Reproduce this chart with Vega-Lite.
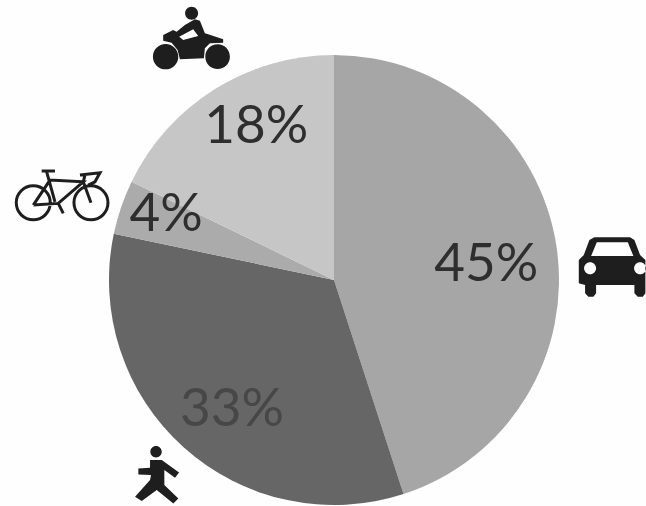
{
"$schema":"https://vega.github.io/schema/vega-lite/v6.json",
"width":646,"height":506,"padding":0,"autosize":{"type":"none"},
"background":"#fefefe",
"view":{"stroke":null},
"resolve":{"scale":{"color":"independent"}},
"datasets":{
"shares":[
{"mode":"Car","rank":1,"share":45,"label":"45%","labelTurn":23.4,"labelRadius":0.68},
{"mode":"Walking","rank":2,"share":33.3,"label":"33%","labelTurn":60.6,"labelRadius":0.733},
{"mode":"Bicycle","rank":3,"share":3.9,"label":"4%","labelTurn":80.9,"labelRadius":0.8},
{"mode":"Motorcycle","rank":4,"share":17.8,"label":"18%","labelTurn":92.5,"labelRadius":0.762}],
"icons":[
{"mode":"Car","across":1.236,"down":-0.062},
{"mode":"Walking","across":-0.782,"down":0.867},
{"mode":"Bicycle","across":-1.209,"down":-0.364},
{"mode":"Motorcycle","across":-0.636,"down":-1.089}]
},
"layer":[
{"data":{"name":"shares"},
"mark":{"type":"arc","outerRadius":225,"innerRadius":0,"stroke":null},
"encoding":{
"x":{"datum":0,"type":"quantitative","scale":{"domain":[-1.4844,1.3867],"range":[0,646],"nice":false,"zero":false},"axis":null},
"y":{"datum":0,"type":"quantitative","scale":{"domain":[-1.2444,1.0044],"range":[0,506],"nice":false,"zero":false},"axis":null},
"theta":{"field":"share","type":"quantitative","stack":true,"scale":{"domain":[0,100],"range":[0,6.28319]}},
"order":{"field":"rank","type":"ordinal"},
"color":{"field":"mode","type":"nominal","legend":null,"scale":{"domain":["Car","Walking","Bicycle","Motorcycle"],"range":["#a6a6a6","#666666","#ababab","#c6c6c6"]}}
}},
{"data":{"name":"shares"},
"mark":{"type":"text","font":"Lato","fontSize":53,"align":"center","baseline":"middle"},
"encoding":{
"x":{"datum":0,"type":"quantitative"},
"y":{"datum":0,"type":"quantitative"},
"theta":{"field":"labelTurn","type":"quantitative","stack":null},
"radius":{"field":"labelRadius","type":"quantitative","scale":{"domain":[0,1],"range":[0,225]}},
"text":{"field":"label"},
"color":{"field":"mode","type":"nominal","legend":null,"scale":{"domain":["Car","Walking","Bicycle","Motorcycle"],"range":["#2e2e2e","#474747","#2e2e2e","#2e2e2e"]}}
}},
{"data":{"name":"icons"},
"transform":[{"filter":"datum.mode !== 'Bicycle'"}],
"mark":{"type":"point","filled":true,"size":4,"fill":"#1e1e1e","stroke":null,"opacity":1},
"encoding":{
"x":{"field":"across","type":"quantitative"},
"y":{"field":"down","type":"quantitative"},
"shape":{"field":"mode","type":"nominal","legend":null,"scale":{"domain":["Car","Walking","Motorcycle"],"range":[
"M-17.7,-28.7 L18,-28.7 L22.3,-26 L28,-11 L33.3,-6 L33.3,27.3 L30.7,30.7 L25.7,30.7 L22.3,27.3 L22.3,19 L-16,19 L-16,27.3 L-18.7,30.7 L-23.7,30.7 L-27,27.3 L-27,19 L-33.3,17.3 L-33.3,-6 L-28.3,-11 L-22.7,-26 Z M-15.3,-23.7 L-21,-10 L21.3,-10 L15.7,-23.7 Z M-28,2.3 A6,6 0 1 0 -16,2.3 A6,6 0 1 0 -28,2.3 Z M22,2.3 A6,6 0 1 0 34,2.3 A6,6 0 1 0 22,2.3 Z",
"M-7.7,-23.3 A5.7,5.7 0 1 1 3.7,-23.3 A5.7,5.7 0 1 1 -7.7,-23.3 Z M-8,-15 L3.7,-15 L21,-2.7 L17,2.7 L6.3,-5 L6.3,10 L20.3,23.3 L15.3,28.3 L-1.3,15 L-16.3,26 L-23,21.7 L-8,5 L-7,0 L-19.7,-0.7 L-19.7,-6.7 L-8,-7.3 Z",
"M-27.7,0 L-17.7,-5 L-14.3,-3.3 L-6,-10 L4,-15.7 L9,-14.3 L14,-1.7 L17.3,-0.7 L32.3,4.3 L32.3,7.7 L19,8.3 L14,13.3 L13,23.3 L-11,24.3 L-13.3,15 L-19.3,7.7 L-27.7,5.7 Z M-11.7,1.7 L-7.7,5 L7.3,1 L2.3,-5.7 Z M-5.8,-21.7 A6.5,6.5 0 1 1 7.2,-21.7 A6.5,6.5 0 1 1 -5.8,-21.7 Z M-38,21.7 A12.7,12.7 0 1 1 -12.6,21.7 A12.7,12.7 0 1 1 -38,21.7 Z M14.4,21.7 A12.3,12.3 0 1 1 39,21.7 A12.3,12.3 0 1 1 14.4,21.7 Z"
]}}
}},
{"data":{"name":"icons"},
"transform":[{"filter":"datum.mode === 'Bicycle'"}],
"mark":{"type":"point","filled":false,"size":4,"fill":"transparent","stroke":"#1e1e1e","strokeWidth":3,"opacity":1,
"shape":"M-45.7,4.7 A17,17 0 1 1 -11.7,4.7 A17,17 0 1 1 -45.7,4.7 Z M12,4.7 A17,17 0 1 1 46,4.7 A17,17 0 1 1 12,4.7 Z M-28.7,7 L-3.7,5.3 L21.3,-16.3 L-12,-18 L-28.7,7 M-20.3,-27 L-7,-27 M-15.3,-26.3 L-7,3.7 M21.3,-16.3 L29,4.7 M18,-23 L38,-25.3 L33,-16.3 L26.3,-13 M23,-23 L21.3,-16.3 M-3.7,5.3 L1.3,15.3"},
"encoding":{
"x":{"field":"across","type":"quantitative"},
"y":{"field":"down","type":"quantitative"}
}}
]
}
